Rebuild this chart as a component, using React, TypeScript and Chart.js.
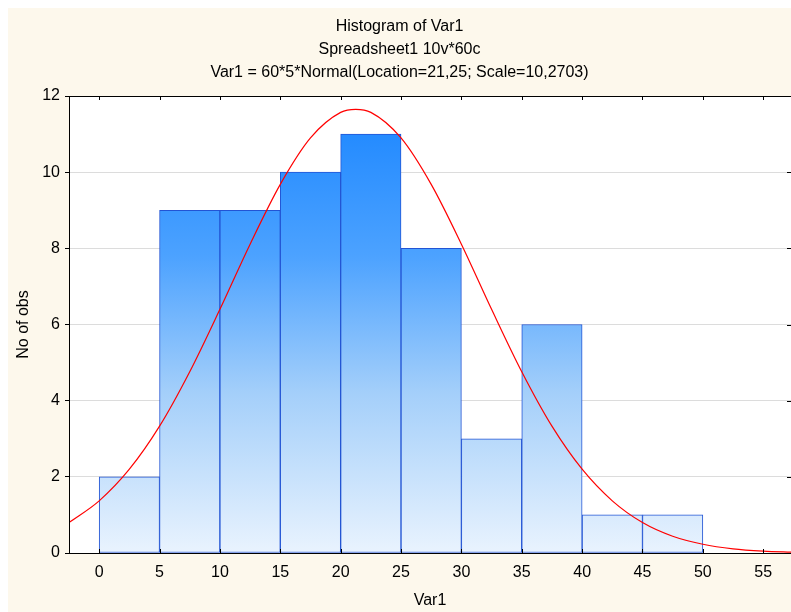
import React, { useEffect, useRef } from "react";
import { Chart, registerables } from "chart.js";

Chart.register(...registerables);

// Histogram bins (centers) and observed counts
const binCenters = [2.5, 7.5, 12.5, 17.5, 22.5, 27.5, 32.5, 37.5, 42.5, 47.5];
const binCounts = [2, 9, 9, 10, 11, 8, 3, 6, 1, 1];

// Fitted normal curve
const curveX = [-2.5, 0, 2.5, 5, 7.5, 10, 12.5, 15, 17.5, 20, 21.25, 22.5, 25, 27.5, 30, 32.5, 35, 37.5, 40, 42.5, 45, 47.5, 50, 52.5, 55, 57.5];
const curveY = [0.80, 1.37, 2.20, 3.33, 4.76, 6.40, 8.11, 9.68, 10.90, 11.57, 11.65, 11.57, 10.90, 9.68, 8.11, 6.40, 4.76, 3.33, 2.20, 1.37, 0.80, 0.44, 0.23, 0.11, 0.05, 0.02];

const xTicks = [0, 5, 10, 15, 20, 25, 30, 35, 40, 45, 50, 55];
const yTicks = [0, 2, 4, 6, 8, 10, 12];

const titleLines = [
  "Histogram of Var1",
  "Spreadsheet1 10v*60c",
  "Var1 = 60*5*Normal(Location=21,25; Scale=10,2703)",
];

const FONT = "'Liberation Sans', Arial, sans-serif";

const frame = {
  id: "frame",
  beforeDraw(chart: any) {
    const { ctx, chartArea } = chart;
    const { left, top, right, bottom } = chartArea;
    ctx.save();
    ctx.fillStyle = "#ffffff";
    ctx.fillRect(left, top, right - left, bottom - top);
    ctx.restore();
  },
  afterDraw(chart: any) {
    const { ctx, chartArea, scales } = chart;
    const { left, top, right, bottom } = chartArea;
    ctx.save();
    ctx.strokeStyle = "#000";
    ctx.lineWidth = 1;
    ctx.beginPath();
    ctx.moveTo(left, top + 0.5);
    ctx.lineTo(right, top + 0.5);
    ctx.moveTo(left, bottom + 0.5);
    ctx.lineTo(right, bottom + 0.5);
    ctx.moveTo(left + 0.5, top);
    ctx.lineTo(left + 0.5, bottom);
    for (const v of xTicks) {
      const px = Math.round(scales.x.getPixelForValue(v)) + 0.5;
      ctx.moveTo(px, top);
      ctx.lineTo(px, top + 4);
      ctx.moveTo(px, bottom);
      ctx.lineTo(px, bottom - 4);
    }
    for (const v of yTicks) {
      const py = Math.round(scales.y.getPixelForValue(v)) + 0.5;
      ctx.moveTo(right, py);
      ctx.lineTo(right - 4, py);
    }
    ctx.stroke();
    ctx.restore();
  },
};

export default function App() {
  const ref = useRef<HTMLCanvasElement>(null);

  useEffect(() => {
    const canvas = ref.current!;
    const chart = new Chart(canvas, {
      data: {
        datasets: [
          {
            type: "line" as const,
            data: curveX.map((x, i) => ({ x, y: curveY[i] })),
            borderColor: "#ff0000",
            borderWidth: 1.2,
            pointRadius: 0,
            cubicInterpolationMode: "monotone",
            fill: false,
            order: 0,
          },
          {
            type: "bar" as const,
            data: binCenters.map((x, i) => ({ x, y: binCounts[i] })),
            backgroundColor: (ctx: any) => {
              const area = ctx.chart.chartArea;
              if (!area) return "#5aa8ff";
              const g = ctx.chart.ctx.createLinearGradient(0, area.top, 0, area.bottom);
              g.addColorStop(0, "#1884ff");
              g.addColorStop(0.35, "#4ca2ff");
              g.addColorStop(0.65, "#a4cffa");
              g.addColorStop(1, "#e9f3fe");
              return g;
            },
            borderColor: "#2254d4",
            borderWidth: 1,
            borderSkipped: false,
            barPercentage: 1,
            categoryPercentage: 1,
            order: 1,
          },
        ],
      } as any,
      options: {
        animation: false,
        responsive: true,
        maintainAspectRatio: false,
        layout: { padding: 0 },
        plugins: {
          legend: { display: false },
          tooltip: { enabled: false },
          title: {
            display: true,
            text: titleLines,
            color: "#000",
            font: { family: FONT, size: 16, weight: "normal", lineHeight: 23 / 16 },
            padding: { top: 7.5, bottom: 11.5 },
          },
        },
        scales: {
          x: {
            type: "linear",
            offset: false,
            min: -2.5,
            max: 57.3,
            afterBuildTicks: (axis: any) => {
              axis.ticks = xTicks.map((v) => ({ value: v }));
            },
            afterFit: (axis: any) => {
              axis.height = 59;
            },
            grid: { display: false, drawTicks: false, offset: false },
            border: { display: true, color: "#000" },
            ticks: {
              color: "#000",
              font: { family: FONT, size: 16 },
              padding: 10,
              maxRotation: 0,
              autoSkip: false,
            },
            title: {
              display: true,
              text: "Var1",
              color: "#000",
              font: { family: FONT, size: 16 },
              padding: { top: 0, bottom: 1.4 },
            },
          },
          y: {
            type: "linear",
            min: 0,
            max: 12,
            afterBuildTicks: (axis: any) => {
              axis.ticks = yTicks.map((v) => ({ value: v }));
            },
            afterFit: (axis: any) => {
              axis.width = 61;
            },
            grid: { color: "#dcdcdc", tickColor: "#000", tickLength: 4, lineWidth: 1 },
            border: { display: true, color: "#000" },
            ticks: {
              color: "#000",
              font: { family: FONT, size: 16 },
              padding: 5,
            },
            title: {
              display: true,
              text: "No of obs",
              color: "#000",
              font: { family: FONT, size: 16 },
              padding: { top: 6, bottom: 0 },
            },
          },
        },
      } as any,
      plugins: [frame],
    });
    return () => chart.destroy();
  }, []);

  return (
    <div
      style={{
        position: "fixed",
        left: 8,
        top: 8,
        width: 783,
        height: 604,
        background: "#fdf8ec",
      }}
    >
      <canvas ref={ref} />
    </div>
  );
}
